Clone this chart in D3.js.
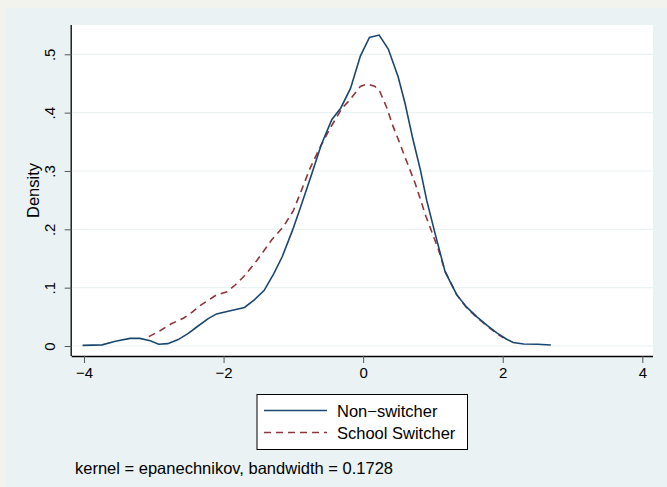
<!DOCTYPE html>
<html>
<head>
<meta charset="utf-8">
<script src="https://cdn.jsdelivr.net/npm/d3@7"></script>
<style>
  html, body { margin: 0; padding: 0; background: #f3f3ee; }
  svg { display: block; font-family: Arial, "Liberation Sans", Helvetica, sans-serif; }
</style>
</head>
<body>
<svg id="chart" width="667" height="487"></svg>
<script>
// --- DATA ---
const xTicks = [-4, -2, 0, 2, 4];
const yTicks = [0, 0.1, 0.2, 0.3, 0.4, 0.5];
const yTickLabels = ["0", ".1", ".2", ".3", ".4", ".5"];
const seriesNames = ["Non\u2212switcher", "School Switcher"];

// kernel density, non-switchers: [x, density]
const nonSwitcher = [
  [-4.02, 0.001], [-3.74, 0.002], [-3.55, 0.008], [-3.34, 0.013], [-3.2, 0.013],
  [-3.05, 0.009], [-2.93, 0.003], [-2.8, 0.004], [-2.65, 0.011], [-2.5, 0.022],
  [-2.38, 0.033], [-2.22, 0.047], [-2.1, 0.055], [-1.95, 0.059], [-1.7, 0.066],
  [-1.56, 0.079], [-1.42, 0.095], [-1.28, 0.124], [-1.16, 0.153], [-1.01, 0.199],
  [-0.9, 0.237], [-0.75, 0.29], [-0.6, 0.345], [-0.45, 0.388], [-0.32, 0.408],
  [-0.18, 0.442], [-0.04, 0.497], [0.09, 0.529], [0.23, 0.533], [0.36, 0.509],
  [0.5, 0.462], [0.6, 0.416], [0.71, 0.356], [0.82, 0.302], [0.91, 0.25],
  [1.03, 0.193], [1.175, 0.127], [1.34, 0.088], [1.48, 0.067], [1.63, 0.05],
  [1.78, 0.035], [1.92, 0.022], [2.05, 0.012], [2.15, 0.006], [2.3, 0.0035],
  [2.5, 0.003], [2.69, 0.0017]
];

// kernel density, school switchers
const schoolSwitcher = [
  [-3.07, 0.016], [-2.9, 0.027], [-2.75, 0.038], [-2.57, 0.048], [-2.45, 0.058],
  [-2.34, 0.069], [-2.2, 0.08], [-2.11, 0.087], [-1.95, 0.093], [-1.83, 0.105],
  [-1.71, 0.119], [-1.52, 0.147], [-1.31, 0.182], [-1.14, 0.205], [-1.0, 0.232],
  [-0.9, 0.262], [-0.76, 0.305], [-0.62, 0.34], [-0.47, 0.374], [-0.3, 0.408],
  [-0.19, 0.422], [-0.04, 0.445], [0.06, 0.449], [0.17, 0.445], [0.24, 0.436],
  [0.34, 0.408], [0.43, 0.376], [0.51, 0.352], [0.58, 0.33], [0.745, 0.279],
  [0.9, 0.222], [1.08, 0.165], [1.175, 0.128], [1.34, 0.088], [1.48, 0.066],
  [1.63, 0.049], [1.78, 0.034], [1.92, 0.021], [2.01, 0.014]
];

const noteText = "kernel = epanechnikov, bandwidth = 0.1728";

// --- LAYOUT ---
const W = 667, H = 487;
const plot = { left: 71.7, right: 653, top: 25, bottom: 356 };
const NAVY = "#1a476f", MAROON = "#90353b", BG = "#eaf2f3";

const svg = d3.select("#chart");

// graph region
svg.append("rect").attr("x", 5).attr("y", 8).attr("width", W - 5).attr("height", H - 8).attr("fill", BG);
// plot region
svg.append("rect")
  .attr("x", plot.left).attr("y", plot.top)
  .attr("width", plot.right - plot.left).attr("height", plot.bottom - plot.top)
  .attr("fill", "#fff");

const x = d3.scaleLinear().domain([-4, 4]).range([84, 642.3]);
const y = d3.scaleLinear().domain([0, 0.5]).range([346, 54.3]);

// grid lines
svg.append("g").selectAll("line").data(yTicks).join("line")
  .attr("x1", plot.left).attr("x2", plot.right)
  .attr("y1", d => y(d)).attr("y2", d => y(d))
  .attr("stroke", BG).attr("stroke-width", 1.2);

// x axis
const xAxis = svg.append("g")
  .attr("transform", `translate(0,${plot.bottom})`)
  .call(d3.axisBottom(x).tickValues(xTicks).tickSize(7).tickPadding(4)
    .tickFormat(d => d < 0 ? "\u2212" + Math.abs(d) : d));
xAxis.select(".domain").attr("d", `M${plot.left},0.5H${plot.right}`).attr("stroke", "#000").attr("stroke-width", 1.3);
xAxis.selectAll(".tick line").attr("stroke", "#555");
xAxis.selectAll(".tick text").attr("font-size", 15).attr("fill", "#000")
  .attr("font-family", "Arial, 'Liberation Sans', sans-serif");

// y axis
const yAxis = svg.append("g")
  .attr("transform", `translate(${plot.left},0)`)
  .call(d3.axisLeft(y).tickValues(yTicks).tickSize(7)
    .tickFormat((d, i) => yTickLabels[i]));
yAxis.select(".domain").attr("d", `M-0.5,${plot.top}V${plot.bottom}`).attr("stroke", "#000").attr("stroke-width", 1.3);
yAxis.selectAll(".tick line").attr("stroke", "#555");
yAxis.selectAll(".tick text")
  .attr("x", null).attr("dy", null)
  .attr("text-anchor", "middle")
  .attr("dominant-baseline", "central")
  .attr("transform", "translate(-22,0) rotate(-90)")
  .attr("font-size", 15).attr("fill", "#000")
  .attr("font-family", "Arial, 'Liberation Sans', sans-serif");

// y title
svg.append("text")
  .attr("transform", `translate(33,${(plot.top + plot.bottom) / 2}) rotate(-90)`)
  .attr("text-anchor", "middle").attr("dominant-baseline", "central")
  .attr("font-size", 16.5).attr("fill", "#000")
  .text("Density");

// lines
const line = d3.line().x(d => x(d[0])).y(d => y(d[1]));
svg.append("path").datum(schoolSwitcher)
  .attr("d", line).attr("fill", "none")
  .attr("stroke", MAROON).attr("stroke-width", 1.6).attr("stroke-dasharray", "7,5");
svg.append("path").datum(nonSwitcher)
  .attr("d", line).attr("fill", "none")
  .attr("stroke", NAVY).attr("stroke-width", 1.6);

// legend
const lg = svg.append("g");
lg.append("rect").attr("x", 257).attr("y", 394.5).attr("width", 210.5).attr("height", 55)
  .attr("fill", "#fff").attr("stroke", "#000").attr("stroke-width", 1);
const rows = [
  { name: seriesNames[0], color: NAVY, dash: null, y: 410.5 },
  { name: seriesNames[1], color: MAROON, dash: "7,5", y: 432.5 }
];
rows.forEach(r => {
  lg.append("line").attr("x1", 264).attr("x2", 327).attr("y1", r.y).attr("y2", r.y)
    .attr("stroke", r.color).attr("stroke-width", 1.6).attr("stroke-dasharray", r.dash);
  lg.append("text").attr("x", 337).attr("y", r.y).attr("dominant-baseline", "central")
    .attr("font-size", 16.5).attr("fill", "#000").text(r.name);
});

// note
svg.append("text").attr("x", 75).attr("y", 474)
  .attr("font-size", 16.5).attr("fill", "#000").text(noteText);
</script>
</body>
</html>
